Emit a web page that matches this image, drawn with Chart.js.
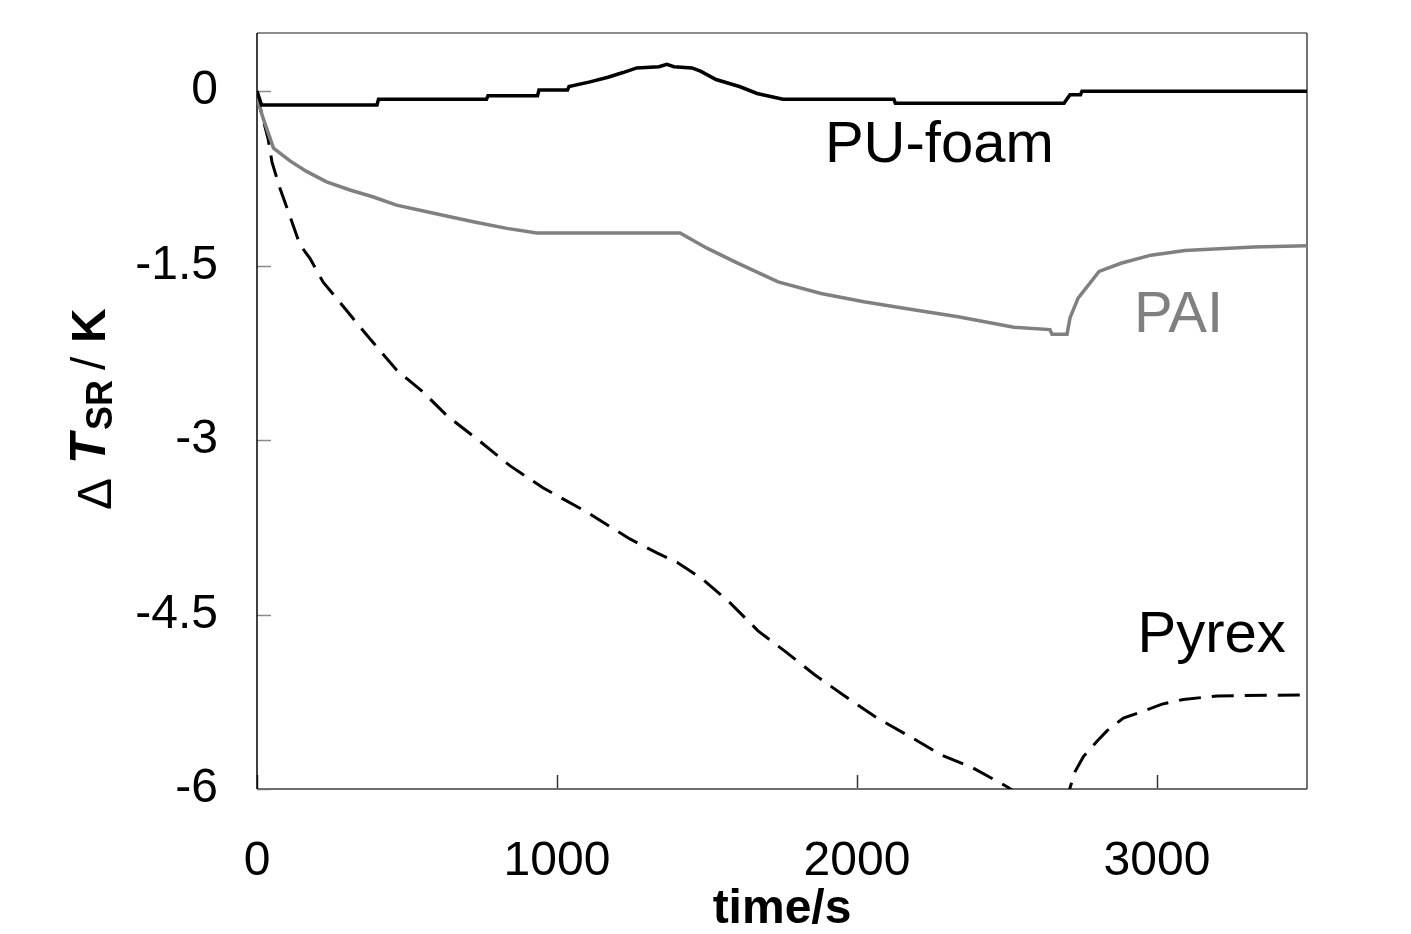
<!DOCTYPE html>
<html>
<head>
<meta charset="utf-8">
<script src="https://cdn.jsdelivr.net/npm/chart.js@4.4.1/dist/chart.umd.min.js"></script>
<style>
  html, body { margin: 0; padding: 0; background: #fff; }
  #wrap { width: 1411px; height: 934px; position: relative; }
</style>
</head>
<body>
<div id="wrap"><canvas id="chart"></canvas></div>
<script>
// time axis (s) and temperature difference (K)
const puTime = [0, 15, 400, 405, 765, 770, 935, 940, 1035, 1040, 1110, 1170, 1220, 1266, 1340, 1366, 1390, 1450, 1480, 1530, 1608, 1667, 1753, 2123, 2128, 2690, 2710, 2745, 2750, 3500];
const puDT   = [0, -0.12, -0.12, -0.07, -0.07, -0.04, -0.04, 0.01, 0.01, 0.04, 0.08, 0.12, 0.16, 0.20, 0.21, 0.23, 0.21, 0.20, 0.17, 0.10, 0.04, -0.02, -0.07, -0.07, -0.105, -0.105, -0.03, -0.03, 0, 0];

const paiTime = [0, 5, 20, 55, 110, 165, 232, 310, 388, 465, 555, 643, 733, 833, 933, 1410, 1500, 1595, 1737, 1880, 2023, 2167, 2337, 2523, 2643, 2650, 2700, 2710, 2737, 2807, 2880, 2980, 3093, 3323, 3500];
const paiDT   = [0, -0.1, -0.23, -0.49, -0.6, -0.69, -0.78, -0.85, -0.91, -0.98, -1.03, -1.08, -1.13, -1.18, -1.22, -1.22, -1.35, -1.47, -1.64, -1.74, -1.81, -1.87, -1.94, -2.03, -2.05, -2.09, -2.09, -1.95, -1.78, -1.55, -1.48, -1.41, -1.37, -1.34, -1.33];

const pyrexTime = [0, 3, 22, 37, 50, 77, 116, 143, 177, 220, 300, 370, 466, 555, 633, 733, 843, 953, 1100, 1243, 1333, 1400, 1487, 1577, 1670, 1767, 1860, 1953, 2067, 2177, 2283, 2387, 2500, 2560, 2690, 2705, 2710, 2727, 2755, 2800, 2833, 2888, 2955, 3017, 3088, 3200, 3500];
const pyrexDT   = [0, -0.06, -0.26, -0.41, -0.61, -0.84, -1.12, -1.32, -1.44, -1.64, -1.89, -2.11, -2.40, -2.59, -2.79, -2.99, -3.22, -3.41, -3.62, -3.85, -3.97, -4.05, -4.20, -4.40, -4.64, -4.83, -5.02, -5.19, -5.39, -5.55, -5.71, -5.82, -5.98, -6.08, -6.12, -6.05, -5.99, -5.85, -5.72, -5.59, -5.50, -5.39, -5.33, -5.27, -5.23, -5.20, -5.19];

const xTicks = [0, 1000, 2000, 3000];
const yTicks = [0, -1.5, -3, -4.5, -6];

// series labels written inside the plot: [text, time, dT, colour]
const seriesLabels = [
  ['PU-foam', 1893, -0.61, '#000000'],
  ['PAI', 2923, -2.07, '#808080'],
  ['Pyrex', 2935, -4.82, '#000000']
];

const FONT = '"Liberation Sans", Arial, Helvetica, sans-serif';

function toPoints(ts, vs) {
  return ts.map((t, i) => ({ x: t, y: vs[i] }));
}

// frame, inward ticks, y title and curve labels
const decorations = {
  id: 'decorations',
  beforeDatasetsDraw(chart) {
    const { ctx, chartArea: a, scales } = chart;
    ctx.save();
    // ticks
    ctx.lineWidth = 1.5;
    ctx.strokeStyle = '#8a8a8a';
    yTicks.forEach(v => {
      const y = Math.round(scales.y.getPixelForValue(v)) + 0.5;
      ctx.beginPath(); ctx.moveTo(a.left, y); ctx.lineTo(a.left + 14, y); ctx.stroke();
    });
    ctx.strokeStyle = '#333';
    xTicks.forEach(v => {
      const x = Math.round(scales.x.getPixelForValue(v)) + 0.5;
      ctx.beginPath(); ctx.moveTo(x, a.bottom); ctx.lineTo(x, a.bottom - 14); ctx.stroke();
    });
    // frame
    ctx.lineWidth = 2;
    ctx.strokeStyle = '#8c8c8c';
    ctx.beginPath(); ctx.moveTo(a.left, a.top); ctx.lineTo(a.right, a.top); ctx.stroke();
    ctx.strokeStyle = '#6e6e6e';
    ctx.beginPath(); ctx.moveTo(a.left, a.bottom); ctx.lineTo(a.right, a.bottom); ctx.stroke();
    ctx.lineWidth = 1.5;
    ctx.strokeStyle = '#000';
    ctx.beginPath(); ctx.moveTo(a.left, a.top); ctx.lineTo(a.left, a.bottom); ctx.stroke();
    ctx.strokeStyle = '#444';
    ctx.beginPath(); ctx.moveTo(a.right, a.top); ctx.lineTo(a.right, a.bottom); ctx.stroke();
    ctx.restore();
  },
  afterDraw(chart) {
    const { ctx, scales } = chart;
    ctx.save();
    // curve labels
    ctx.textAlign = 'left';
    ctx.textBaseline = 'alphabetic';
    ctx.font = '58px ' + FONT;
    seriesLabels.forEach(([txt, t, v, col]) => {
      ctx.fillStyle = col;
      ctx.fillText(txt, scales.x.getPixelForValue(t), scales.y.getPixelForValue(v));
    });
    // y title: ΔT_SR / K, rotated
    ctx.translate(105, 510);
    ctx.rotate(-Math.PI / 2);
    ctx.fillStyle = '#000';
    ctx.font = '48px ' + FONT;
    ctx.fillText('\u0394', 0, 6);
    ctx.font = 'italic bold 50px ' + FONT;
    ctx.fillText('T', 46, 0);
    ctx.font = 'bold 36px ' + FONT;
    ctx.fillText('SR', 80, 7);
    ctx.font = '48px ' + FONT;
    ctx.fillText('/', 140, 0);
    ctx.font = 'bold 48px ' + FONT;
    ctx.fillText('K', 167, 0);
    ctx.restore();
  }
};

new Chart(document.getElementById('chart'), {
  type: 'scatter',
  data: {
    datasets: [{
      label: 'PU-foam',
      data: toPoints(puTime, puDT),
      showLine: true,
      borderColor: '#000000',
      borderWidth: 3.5,
      pointRadius: 0,
      tension: 0
    }, {
      label: 'PAI',
      data: toPoints(paiTime, paiDT),
      showLine: true,
      borderColor: '#808080',
      borderWidth: 3.5,
      pointRadius: 0,
      tension: 0
    }, {
      label: 'Pyrex',
      data: toPoints(pyrexTime, pyrexDT),
      showLine: true,
      borderColor: '#000000',
      borderWidth: 3,
      borderDash: [22, 11],
      pointRadius: 0,
      tension: 0
    }]
  },
  options: {
    responsive: true,
    maintainAspectRatio: false,
    animation: false,
    layout: {
      padding: { top: 33, right: 104, left: 0, bottom: 0 }
    },
    plugins: {
      legend: { display: false },
      tooltip: { enabled: false }
    },
    scales: {
      x: {
        type: 'linear',
        min: 0,
        max: 3500,
        afterBuildTicks: axis => { axis.ticks = xTicks.map(v => ({ value: v })); },
        afterFit: axis => {
          axis.height = 145;
          axis.paddingLeft = 0;
          axis.paddingRight = 0;
        },
        grid: { display: false, drawTicks: false },
        border: { display: false },
        ticks: {
          padding: 44,
          color: '#000',
          font: { family: FONT, size: 48 },
          maxRotation: 0,
          callback: v => String(v)
        },
        title: {
          display: true,
          text: 'time/s',
          color: '#000',
          font: { family: FONT, size: 48, weight: 'bold', lineHeight: 1 },
          padding: { top: 0, bottom: 0 }
        }
      },
      y: {
        type: 'linear',
        min: -6,
        max: 0.5,
        afterBuildTicks: axis => { axis.ticks = yTicks.map(v => ({ value: v })); },
        afterFit: axis => {
          axis.width = 257;
          axis.paddingTop = 0;
          axis.paddingBottom = 0;
        },
        grid: { display: false, drawTicks: false },
        border: { display: false },
        ticks: {
          padding: 39,
          color: '#000',
          font: { family: FONT, size: 48 },
          callback: v => String(v)
        }
      }
    }
  },
  plugins: [decorations]
});
</script>
</body>
</html>
